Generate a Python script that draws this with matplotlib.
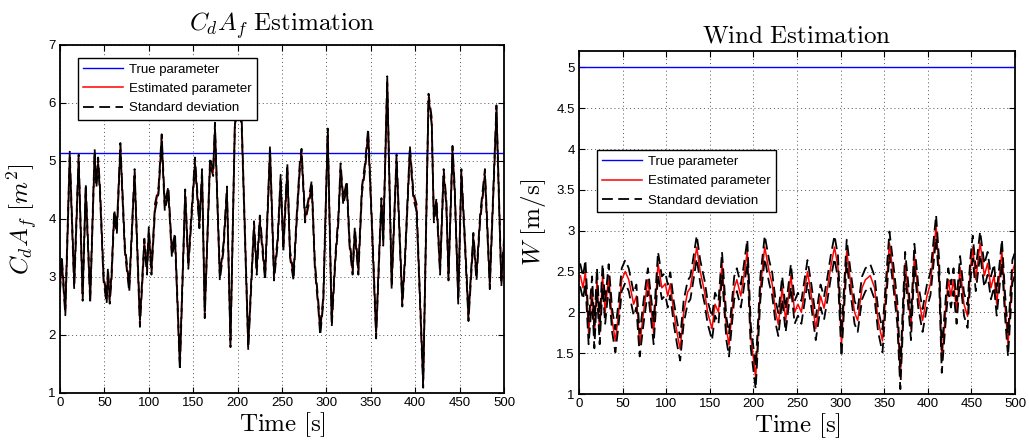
import matplotlib
matplotlib.use("Agg")
import matplotlib.pyplot as plt
import numpy as np

plt.rcParams['font.family'] = ['Liberation Sans', 'DejaVu Sans']
plt.rcParams['mathtext.fontset'] = 'cm'

# --- C_d A_f estimation (left) ---
cda_true = 5.14
cda_t = [0, 2, 6, 11, 16, 21, 25.5, 29, 34, 39, 41, 43, 45, 49, 52.5, 54, 56, 58, 61, 64,
         68, 73, 78, 84, 90, 95, 98, 100, 103, 107, 111, 114.5, 118, 122, 126, 129.5, 135,
         141, 144.5, 152, 157, 160, 163, 169, 172.5, 174.5, 180, 184, 188, 192, 197, 201,
         204.5, 212, 218.5, 221.5, 225, 231, 236.5, 241, 245, 248.5, 251.5, 256, 259, 263,
         266.5, 270, 272, 276, 280, 283.5, 287, 291, 293, 296.5, 301.5, 306, 310, 313.5,
         316, 319, 323, 326, 329.5, 332, 336, 340, 343.5, 347, 351, 356, 360, 362, 364,
         368.5, 373.5, 379, 383, 385.5, 388.5, 394, 398, 401.5, 409, 415, 418.5, 421, 424,
         428, 432, 435, 437.5, 442, 444.5, 448.5, 452, 456, 460, 465.5, 469, 473, 478.5,
         484, 491.5, 497, 500]
cda_est = [2.8, 3.3, 2.4, 5.1, 2.85, 5.05, 2.65, 4.55, 2.6, 5.15, 4.6, 5.0, 4.5, 3.0, 2.6,
           3.1, 2.6, 3.0, 4.1, 3.8, 5.25, 3.5, 2.8, 4.8, 2.2, 3.6, 3.1, 3.8, 3.1, 4.2, 4.5,
           5.4, 4.2, 4.5, 3.4, 3.7, 1.45, 4.45, 3.2, 5.0, 3.9, 4.8, 2.35, 5.0, 4.8, 5.6, 3.0,
           3.5, 4.5, 1.85, 5.7, 5.9, 5.7, 1.8, 3.9, 3.1, 4.0, 3.0, 5.2, 3.0, 3.6, 4.7, 3.5,
           4.9, 3.4, 3.0, 4.0, 4.9, 5.15, 4.0, 4.3, 4.6, 3.2, 2.5, 2.05, 2.6, 5.5, 2.2, 3.3,
           4.0, 4.9, 4.3, 4.6, 3.6, 3.1, 3.8, 3.1, 4.5, 4.9, 5.5, 4.0, 2.0, 3.6, 4.3, 3.6,
           6.4, 2.85, 5.05, 3.5, 2.55, 3.3, 5.2, 4.4, 4.2, 1.15, 6.1, 5.7, 4.0, 4.3, 3.1,
           4.8, 4.3, 3.0, 5.2, 4.5, 2.6, 4.8, 3.6, 2.3, 3.7, 3.0, 4.0, 4.8, 2.85, 5.9, 2.9,
           3.6]
cda_sd = 0.06

# --- Wind estimation (right) ---
wind_true = 5.0
wind_t = [0, 1.5, 4.6, 7.3, 11, 15, 17.6, 20.6, 23.7, 27, 30, 34, 38, 41.7, 45.5, 49, 53, 57,
          62.7, 65.8, 69.6, 74, 79, 82.6, 85.6, 90.6, 95, 99, 101.7, 104.7, 108.6, 112.4,
          116, 120, 124.6, 127.7, 130.7, 135, 139, 144, 147.5, 152.5, 156, 160, 164, 169,
          172, 178, 181, 185.5, 188.5, 193, 197, 202.6, 208, 213, 218, 221.5, 225.5, 228.6,
          233, 237, 243, 247.3, 251, 255, 262, 266.5, 271.5, 277, 281, 285, 288.6, 293, 297,
          301, 307, 311, 316, 319.6, 324.6, 328.5, 334, 339, 343, 348, 356, 361, 365, 368.5,
          374, 377.7, 380.7, 384.6, 389, 394, 399, 403, 409.5, 413, 416, 421, 423.5, 426.5,
          429.5, 433, 437, 441.5, 445.6, 448.6, 451.5, 455, 460, 464.8, 468.6, 472.4, 476,
          479, 485, 488.5, 492, 497, 500]
wind_est = [2.45, 2.45, 2.3, 2.5, 1.75, 2.3, 1.7, 2.4, 1.75, 2.45, 2.0, 2.45, 1.9, 1.65, 2.0,
            2.4, 2.5, 2.4, 2.1, 2.2, 1.6, 2.0, 2.4, 2.05, 1.75, 2.6, 2.3, 2.35, 2.2, 2.35,
            2.0, 1.75, 1.55, 2.0, 2.25, 2.3, 2.5, 2.8, 2.5, 2.25, 2.0, 1.8, 2.1, 2.0, 2.6,
            1.8, 1.6, 2.3, 2.4, 2.2, 2.4, 2.75, 1.7, 1.2, 2.3, 2.8, 2.5, 2.35, 2.0, 1.85, 2.3,
            1.9, 2.45, 2.0, 2.1, 2.0, 2.5, 2.2, 1.8, 2.2, 2.05, 2.3, 2.55, 2.8, 2.55, 1.6,
            2.75, 2.4, 2.0, 1.9, 2.3, 2.4, 2.45, 2.3, 1.9, 1.65, 2.85, 2.4, 2.0, 1.2, 2.6,
            2.2, 1.8, 2.7, 2.2, 1.9, 2.2, 2.35, 3.05, 2.5, 1.4, 2.1, 2.4, 2.2, 2.4, 2.0, 2.55,
            2.1, 1.95, 2.5, 2.8, 2.4, 2.85, 2.45, 2.6, 2.3, 2.45, 2.1, 2.75, 2.1, 1.6, 2.5,
            2.6]
wind_sd = 0.14

labels = ['True parameter', 'Estimated parameter', 'Standard deviation']


def draw(ax, t, est, sd, true_val):
    t = np.array(t)
    est = np.array(est)
    ax.axhline(true_val, color='#0000ff', lw=1.0, label=labels[0])
    ax.plot(t, est, color='#ff0000', lw=1.1, label=labels[1])
    ax.plot(t, est + sd, color='black', lw=1.3, ls='--', dashes=(6, 3), label=labels[2])
    ax.plot(t, est - sd, color='black', lw=1.3, ls='--', dashes=(6, 3))
    ax.set_xlim(0, 500)
    ax.set_xticks(np.arange(0, 501, 50))
    ax.grid(True, ls=(0, (1, 3)), color='#555555', lw=0.7)
    ax.tick_params(direction='in', top=True, right=True, length=4, labelsize=9.5, pad=3)
    for s in ax.spines.values():
        s.set_linewidth(1.3)
    ax.set_xlabel(r'$\mathrm{Time\ [s]}$', fontsize=18, labelpad=1)


def add_legend(ax, anchor):
    ax.legend(loc='upper left', bbox_to_anchor=anchor, borderaxespad=0,
              fontsize=9.5, fancybox=False, edgecolor='black', framealpha=1,
              handlelength=3.0, handletextpad=0.45, labelspacing=0.55, borderpad=0.4)
    ax.get_legend().get_frame().set_linewidth(1.0)


fig = plt.figure(figsize=(10.29, 4.48), dpi=100)

ax1 = fig.add_axes([0.0583, 0.1228, 0.4315, 0.7768])
draw(ax1, cda_t, cda_est, cda_sd, cda_true)
ax1.set_ylim(1, 7)
ax1.set_yticks(np.arange(1, 8, 1))
ax1.set_ylabel(r'$C_dA_f\ [m^2]$', fontsize=18, labelpad=6)
ax1.set_title(r'$C_dA_f\ \mathrm{Estimation}$', fontsize=18, pad=10)
add_legend(ax1, (0.0405, 0.9626))

ax2 = fig.add_axes([0.5627, 0.1205, 0.4237, 0.7656])
draw(ax2, wind_t, wind_est, wind_sd, wind_true)
ax2.set_ylim(1, 5.2)
ax2.set_yticks(np.arange(1, 5.01, 0.5))
ax2.set_yticklabels(['1', '1.5', '2', '2.5', '3', '3.5', '4', '4.5', '5'])
ax2.set_ylabel(r'$W\ \mathrm{[m/s]}$', fontsize=18, labelpad=6)
ax2.set_title(r'$\mathrm{Wind\ Estimation}$', fontsize=18, pad=6)
add_legend(ax2, (0.0413, 0.711))

fig.savefig('out.png', dpi=100)
